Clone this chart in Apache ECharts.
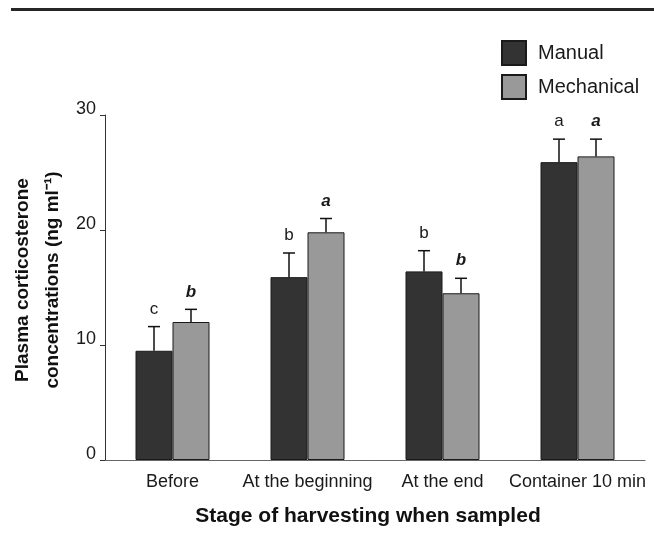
<!DOCTYPE html>
<html>
<head>
<meta charset="utf-8">
<script src="https://cdn.jsdelivr.net/npm/echarts@6/dist/echarts.min.js"></script>
<style>
html,body{margin:0;padding:0;background:#fff;}
#chart{width:654px;height:535px;}
</style>
</head>
<body>
<div id="chart"></div>
<script>
const categories = ['Before', 'At the beginning', 'At the end', 'Container 10 min'];
const seriesNames = ['Manual', 'Mechanical'];
const manualValues = [9.5, 15.9, 16.4, 25.9];
const manualErrors = [2.1, 2.1, 1.8, 2.0];
const manualLetters = ['c', 'b', 'b', 'a'];
const mechanicalValues = [12.0, 19.8, 14.5, 26.4];
const mechanicalErrors = [1.1, 1.2, 1.3, 1.5];
const mechanicalLetters = ['b', 'a', 'b', 'a'];
const yTicks = [0, 10, 20, 30];

const FONT = 'Liberation Sans, Arial, Helvetica, sans-serif';
const BAR_W = 37;

function errData(vals, errs) {
  return vals.map((v, i) => [i, v, errs[i]]);
}

function makeErrRender(sign, letters, bold) {
  return function (params, api) {
    const i = api.value(0), v = api.value(1), e = api.value(2);
    const base = api.coord([i, v]);
    const top = api.coord([i, v + e]);
    const x = base[0] + sign * BAR_W / 2;
    return {
      type: 'group',
      children: [
        { type: 'line', shape: { x1: x, y1: base[1], x2: x, y2: top[1] },
          style: { stroke: '#111', lineWidth: 1.5 } },
        { type: 'line', shape: { x1: x - 6, y1: top[1], x2: x + 6, y2: top[1] },
          style: { stroke: '#111', lineWidth: 1.5 } },
        { type: 'text', x: x, y: top[1] - 9,
          style: { text: letters[params.dataIndex], fill: '#1a1a1a',
            font: (bold ? 'italic bold ' : '') + '17px ' + FONT,
            textAlign: 'center', textVerticalAlign: 'bottom' } }
      ]
    };
  };
}

const chart = echarts.init(document.getElementById('chart'), null, { renderer: 'canvas' });
chart.setOption({
  animation: false,
  backgroundColor: '#fff',
  textStyle: { fontFamily: FONT, color: '#1a1a1a' },
  graphic: [
    { type: 'line', shape: { x1: 11, y1: 9.5, x2: 654, y2: 9.5 },
      style: { stroke: '#262626', lineWidth: 3 } }
  ],
  legend: {
    orient: 'vertical',
    left: 496, top: 35,
    itemWidth: 24, itemHeight: 24, itemGap: 8,
    icon: 'rect',
    data: seriesNames,
    textStyle: { fontSize: 20, color: '#1a1a1a', fontFamily: FONT, padding: [0, 0, 0, 7] }
  },
  grid: { left: 105, right: 9, top: 115, bottom: 75, containLabel: false, outerBoundsMode: 'none' },
  xAxis: {
    type: 'category',
    data: categories,
    axisTick: { show: false },
    axisLine: { lineStyle: { color: '#666', width: 1 } },
    axisLabel: { interval: 0, fontSize: 18, color: '#1a1a1a', margin: 13, fontFamily: FONT },
    name: 'Stage of harvesting when sampled',
    nameLocation: 'middle',
    nameMoveOverlap: false,
    nameGap: 46,
    nameTextStyle: { fontSize: 21, fontWeight: 'bold', color: '#111', fontFamily: FONT, padding: [0, 14, 0, 0] }
  },
  yAxis: {
    type: 'value',
    min: yTicks[0], max: yTicks[yTicks.length - 1], interval: 10,
    splitLine: { show: false },
    axisLine: { show: true, lineStyle: { color: '#333', width: 1 } },
    axisTick: { show: true, length: 5, lineStyle: { color: '#333' } },
    axisLabel: { fontSize: 18, color: '#1a1a1a', margin: 9, fontFamily: FONT,
      verticalAlign: 'bottom', lineHeight: 12 },
    name: 'Plasma corticosterone\nconcentrations (ng ml\u207B\u00B9)',
    nameLocation: 'middle',
    nameMoveOverlap: false,
    nameGap: 37,
    nameTextStyle: { fontSize: 19, fontWeight: 'bold', color: '#111', fontFamily: FONT,
      lineHeight: 30, padding: [0, 0, 0, 15] }
  },
  series: [
    { name: 'Manual', type: 'bar', data: manualValues, barWidth: BAR_W, barGap: '0%',
      itemStyle: { color: '#333333', borderColor: '#1a1a1a', borderWidth: 1 } },
    { name: 'Mechanical', type: 'bar', data: mechanicalValues, barWidth: BAR_W, barGap: '0%',
      itemStyle: { color: '#999999', borderColor: '#1a1a1a', borderWidth: 1 } },
    { name: 'Manual error', type: 'custom', data: errData(manualValues, manualErrors),
      encode: { x: 0, y: 1 }, renderItem: makeErrRender(-1, manualLetters, false), z: 5 },
    { name: 'Mechanical error', type: 'custom', data: errData(mechanicalValues, mechanicalErrors),
      encode: { x: 0, y: 1 }, renderItem: makeErrRender(1, mechanicalLetters, true), z: 5 }
  ]
});
</script>
</body>
</html>
